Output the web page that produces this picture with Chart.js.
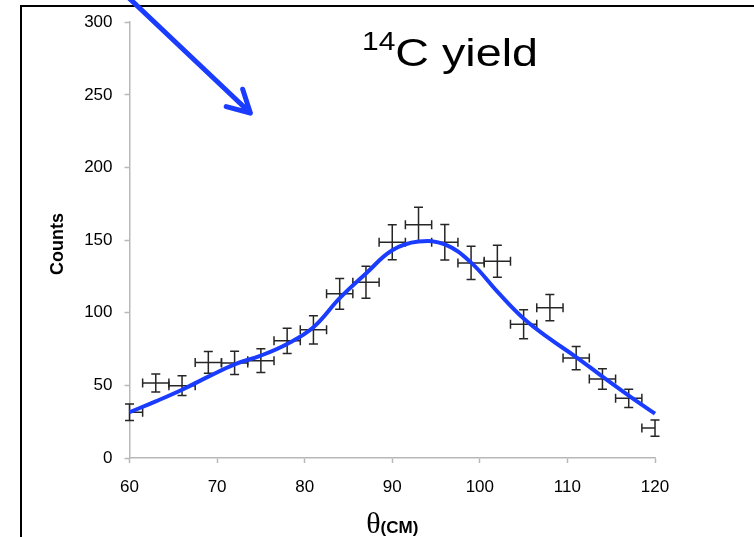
<!DOCTYPE html>
<html>
<head>
<meta charset="utf-8">
<script src="https://cdn.jsdelivr.net/npm/chart.js@4"></script>
<style>
  html, body { margin: 0; padding: 0; background: #fff; }
  canvas { display: block; }
</style>
</head>
<body>
<canvas id="yieldChart" width="754" height="537"></canvas>
<script>
// Measured points (theta in CM degrees, counts with statistical errors)
const thetaValues = [60, 63, 66, 69, 72, 75, 78, 81, 84, 87, 90, 93, 96, 99, 102, 105, 108, 111, 114, 117, 120];
const counts = [31.5, 51.7, 49.8, 65.8, 65.4, 67, 80.7, 88.2, 113, 121, 148.5, 160.6, 148.5, 134.3, 135.5, 92.1, 103.5, 68.8, 54.4, 41.1, 20.6];
const countErrors = [5.6, 6.2, 6.8, 7.5, 8, 8.2, 8.7, 9.7, 10.6, 11, 12, 12, 12.2, 11.4, 11, 10, 9.1, 8, 7, 6.3, 5.6];
const thetaHalfWidth = 1.5;

// Fitted curve (blue)
const fitTheta = [60, 63, 66, 69, 72, 75, 78, 81, 84, 87, 90, 93, 96, 99, 102, 105, 108, 111, 114, 117, 120];
const fitCounts = [31.5, 39, 47, 56, 64.5, 70.5, 78.5, 90, 110, 127, 143, 149, 147, 134.5, 114.5, 96, 82, 69.5, 56, 43, 30.5];

// Axis ticks
const xTicks = [60, 70, 80, 90, 100, 110, 120];
const yTicks = [0, 50, 100, 150, 200, 250, 300];

// Arrow annotation, in data units
const arrowFrom = { x: 59.7, y: 318 };
const arrowTo = { x: 73.8, y: 237.5 };

const FONT = "'Liberation Sans', Arial, Helvetica, sans-serif";
const BLUE = '#1a3cff';

const measured = thetaValues.map((t, i) => ({ x: t, y: counts[i] }));
const fitLine = fitTheta.map((t, i) => ({ x: t, y: fitCounts[i] }));

const decor = {
  id: 'decor',
  beforeDatasetsDraw(chart) {
    const { ctx, scales: { x, y } } = chart;
    ctx.save();
    ctx.strokeStyle = '#262626';
    ctx.lineWidth = 1.5;
    const cap = 4.5;
    thetaValues.forEach((t, i) => {
      const px = x.getPixelForValue(t);
      const py = y.getPixelForValue(counts[i]);
      const yTop = y.getPixelForValue(counts[i] + countErrors[i]);
      const yBot = y.getPixelForValue(counts[i] - countErrors[i]);
      const lo = Math.max(t - thetaHalfWidth, x.min);
      const hi = Math.min(t + thetaHalfWidth, x.max);
      const xl = x.getPixelForValue(lo);
      const xr = x.getPixelForValue(hi);
      ctx.beginPath();
      // vertical bar + caps
      ctx.moveTo(px, yTop); ctx.lineTo(px, yBot);
      ctx.moveTo(px - cap, yTop); ctx.lineTo(px + cap, yTop);
      ctx.moveTo(px - cap, yBot); ctx.lineTo(px + cap, yBot);
      // horizontal bar + caps (clipped at axis limits)
      ctx.moveTo(xl, py); ctx.lineTo(xr, py);
      if (lo > x.min) { ctx.moveTo(xl, py - cap); ctx.lineTo(xl, py + cap); }
      if (hi < x.max) { ctx.moveTo(xr, py - cap); ctx.lineTo(xr, py + cap); }
      ctx.stroke();
    });
    ctx.restore();
  },
  afterDraw(chart) {
    const { ctx, chartArea, scales: { x, y } } = chart;
    ctx.save();

    // slide frame
    ctx.strokeStyle = '#000';
    ctx.lineWidth = 2;
    ctx.beginPath();
    ctx.moveTo(21, 540);
    ctx.lineTo(21, 6);
    ctx.lineTo(760, 6);
    ctx.stroke();

    // y axis title
    ctx.fillStyle = '#000';
    ctx.save();
    ctx.translate(56.5, (chartArea.top + chartArea.bottom) / 2 + 4);
    ctx.rotate(-Math.PI / 2);
    ctx.font = 'bold 18px ' + FONT;
    ctx.textAlign = 'center';
    ctx.textBaseline = 'alphabetic';
    ctx.fillText('Counts', 0, 6);
    ctx.restore();

    // x axis title: theta(CM)
    ctx.textBaseline = 'alphabetic';
    ctx.textAlign = 'left';
    const thetaFont = "30px 'Liberation Serif', 'Times New Roman', serif";
    ctx.font = thetaFont;
    const thW = ctx.measureText('θ').width;
    ctx.font = 'bold 17px ' + FONT;
    const cmW = ctx.measureText('(CM)').width;
    const cx = (chartArea.left + chartArea.right) / 2;
    const sx = cx - (thW + cmW) / 2;
    const base = chartArea.bottom + 75;
    ctx.font = thetaFont;
    ctx.fillText('θ', sx, base);
    ctx.font = 'bold 17px ' + FONT;
    ctx.fillText('(CM)', sx + thW, base);

    // slide title "14C yield"
    ctx.save();
    ctx.font = '25px ' + FONT;
    const supW = ctx.measureText('14').width;
    ctx.font = '39px ' + FONT;
    const mainW = ctx.measureText('C yield').width;
    const targetLeft = 362, targetW = 176;
    ctx.translate(targetLeft, 66);
    ctx.scale(targetW / (supW + mainW), 1);
    ctx.font = '25px ' + FONT;
    ctx.fillText('14', 0, -16);
    ctx.font = '39px ' + FONT;
    ctx.fillText('C yield', supW, 0);
    ctx.restore();

    // blue arrow
    const x0 = x.getPixelForValue(arrowFrom.x), y0 = y.getPixelForValue(arrowFrom.y);
    const x1 = x.getPixelForValue(arrowTo.x), y1 = y.getPixelForValue(arrowTo.y);
    const ang = Math.atan2(y1 - y0, x1 - x0);
    const head = 25, spread = 0.5;
    ctx.strokeStyle = BLUE;
    ctx.lineWidth = 5;
    ctx.lineCap = 'round';
    ctx.lineJoin = 'round';
    ctx.beginPath();
    ctx.moveTo(x0, y0);
    ctx.lineTo(x1, y1);
    ctx.moveTo(x1 - head * Math.cos(ang - spread), y1 - head * Math.sin(ang - spread));
    ctx.lineTo(x1, y1);
    ctx.lineTo(x1 - head * Math.cos(ang + spread), y1 - head * Math.sin(ang + spread));
    ctx.stroke();

    ctx.restore();
  }
};

const ctx = document.getElementById('yieldChart').getContext('2d');
new Chart(ctx, {
  type: 'scatter',
  data: {
    datasets: [
      {
        label: 'Fit',
        type: 'line',
        data: fitLine,
        borderColor: BLUE,
        borderWidth: 4,
        pointRadius: 0,
        fill: false,
        tension: 0.4,
        clip: false
      },
      {
        label: 'Data',
        data: measured,
        pointRadius: 0,
        showLine: false
      }
    ]
  },
  options: {
    responsive: false,
    animation: false,
    layout: { padding: { top: 20, right: 99, left: 0, bottom: 0 } },
    plugins: {
      legend: { display: false },
      tooltip: { enabled: false }
    },
    scales: {
      x: {
        type: 'linear',
        min: 60,
        max: 120,
        afterBuildTicks: s => { s.ticks = xTicks.map(v => ({ value: v })); },
        afterFit: s => { s.height = 79; },
        grid: { drawOnChartArea: false, drawTicks: true, tickLength: 5, tickColor: '#b8b8b8', tickWidth: 1.5 },
        border: { display: true, color: '#b8b8b8', width: 1.5 },
        ticks: { color: '#000', font: { family: FONT, size: 17 }, padding: 14, maxRotation: 0 }
      },
      y: {
        type: 'linear',
        min: 0,
        max: 300,
        afterBuildTicks: s => { s.ticks = yTicks.map(v => ({ value: v })); },
        afterFit: s => { s.width = 129.5; },
        grid: { drawOnChartArea: false, drawTicks: true, tickLength: 5, tickColor: '#b8b8b8', tickWidth: 1.5 },
        border: { display: true, color: '#b8b8b8', width: 1.5 },
        ticks: { color: '#000', font: { family: FONT, size: 17 }, padding: 12 }
      }
    }
  },
  plugins: [decor]
});
</script>
</body>
</html>
